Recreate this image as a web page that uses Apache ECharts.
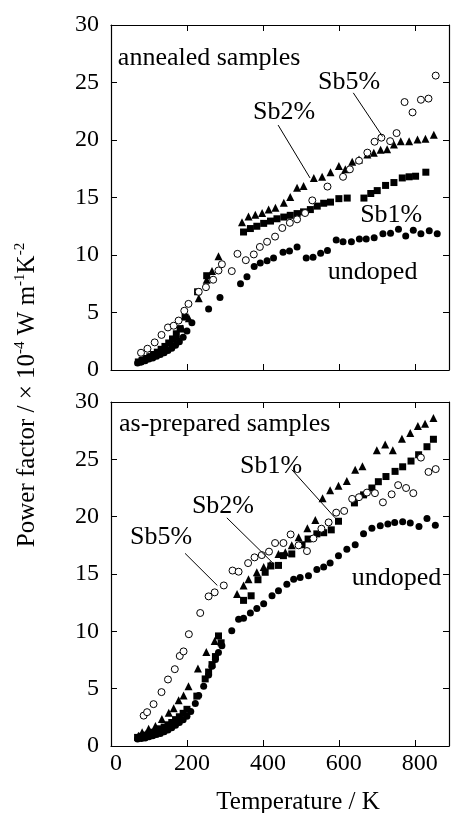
<!DOCTYPE html>
<html>
<head>
<meta charset="utf-8">
<script src="https://cdn.jsdelivr.net/npm/echarts@6/dist/echarts.min.js"></script>
<style>html,body{margin:0;padding:0;background:#fff}#c{width:452px;height:813px}</style>
</head>
<body>
<div id="c"></div>
<script>
// ---------- data (Temperature K, power factor x10^-4 W m^-1 K^-2) ----------
const xTicks = [0, 200, 400, 600, 800];
const yTicks = [0, 5, 10, 15, 20, 25, 30];

// annealed samples (upper panel)
const annUndoped = [[70,0.6],[80,0.7],[90,0.8],[100,0.95],[110,1.05],[120,1.2],[130,1.35],[140,1.5],[150,1.7],[160,1.9],[170,2.15],[180,2.45],[190,2.85],[200,3.4],[213,4.1],[257,5.3],[287,6.3],[341,7.5],[358,8.1],[377,9.0],[393,9.3],[411,9.5],[428,9.75],[453,10.25],[470,10.35],[490,10.7],[514,9.75],[532,9.8],[552,10.15],[570,10.4],[593,11.3],[611,11.15],[633,11.15],[654,11.4],[672,11.4],[693,11.5],[716,11.85],[736,11.9],[757,12.25],[776,11.65],[796,12.15],[816,11.85],[838,12.1],[859,11.85]];
const annSb1 = [[72,0.7],[82,0.85],[92,1.0],[102,1.15],[112,1.35],[122,1.55],[132,1.8],[142,2.05],[152,2.35],[162,2.7],[172,3.15],[182,3.6],[195,4.6],[228,6.8],[252,8.2],[349,12.0],[367,12.3],[384,12.5],[402,12.75],[420,12.95],[437,13.15],[455,13.3],[472,13.45],[490,13.6],[507,13.75],[525,13.95],[543,14.25],[560,14.5],[578,14.6],[600,14.9],[622,14.95],[666,14.95],[684,15.35],[701,15.6],[723,16.05],[745,16.3],[767,16.7],[785,16.8],[802,16.85],[829,17.2]];
const annSb2 = [[75,0.8],[88,1.0],[100,1.2],[115,1.45],[130,1.7],[145,2.0],[160,2.4],[175,2.9],[188,3.6],[205,4.5],[231,6.25],[252,7.85],[266,8.6],[283,9.9],[345,12.85],[362,13.35],[380,13.5],[398,13.65],[415,13.95],[433,14.1],[455,14.55],[472,15.05],[490,15.85],[507,16.0],[534,16.7],[556,16.8],[578,17.2],[600,17.75],[617,17.45],[635,18.1],[653,18.3],[675,18.75],[692,18.9],[710,19.15],[727,19.2],[745,19.6],[763,19.9],[785,19.9],[807,20.05],[828,20.1],[850,20.45]];
const annSb5 = [[79,1.5],[96,1.85],[115,2.4],[133,3.05],[150,3.7],[165,3.85],[178,4.3],[193,5.15],[204,5.75],[231,6.8],[250,7.2],[269,7.85],[283,8.65],[292,9.2],[318,8.6],[333,10.1],[355,9.55],[376,10.05],[392,10.7],[411,11.15],[432,11.6],[451,12.35],[471,12.8],[490,13.1],[511,13.65],[530,14.75],[570,15.95],[611,16.8],[629,17.45],[653,18.2],[675,18.9],[694,19.85],[712,20.2],[735,19.9],[752,20.6],[773,23.3],[794,22.4],[816,23.5],[836,23.6],[855,25.6]];

// as-prepared samples (lower panel)
const prepUndoped = [[70,0.6],[80,0.65],[90,0.7],[100,0.8],[110,0.9],[120,1.0],[130,1.1],[140,1.25],[150,1.4],[160,1.6],[170,1.8],[180,2.05],[190,2.3],[200,2.6],[210,3.0],[222,3.7],[231,4.4],[244,5.2],[257,6.2],[266,6.95],[275,7.55],[283,8.15],[292,8.75],[318,10.05],[336,11.05],[349,11.15],[367,11.6],[384,12.0],[402,12.4],[424,13.1],[441,13.55],[463,14.1],[481,14.55],[498,14.7],[520,14.85],[542,15.4],[560,15.6],[577,15.95],[599,16.6],[621,17.15],[643,17.55],[665,18.5],[687,19.0],[709,19.2],[729,19.35],[747,19.5],[768,19.55],[788,19.45],[811,19.15],[832,19.85],[854,19.25]];
const prepSb1 = [[70,0.75],[80,0.85],[90,0.95],[100,1.05],[110,1.2],[120,1.35],[130,1.5],[140,1.65],[150,1.85],[160,2.05],[170,2.3],[180,2.55],[190,2.85],[200,3.2],[226,4.35],[248,5.85],[257,6.45],[266,7.1],[275,7.8],[283,9.6],[290,9.0],[349,12.7],[369,13.1],[387,14.5],[406,15.15],[421,15.7],[441,15.75],[454,16.6],[476,16.75],[503,17.55],[519,18.05],[542,18.5],[560,18.6],[580,18.85],[599,19.6],[641,21.2],[665,21.9],[687,22.5],[704,23.05],[724,23.5],[748,23.95],[768,24.35],[790,24.85],[810,25.4],[832,26.1],[849,26.75]];
const prepSb2 = [[72,0.9],[82,1.2],[99,1.5],[117,1.75],[134,2.35],[152,2.9],[165,3.3],[178,4.0],[191,4.4],[204,5.2],[229,6.75],[251,8.2],[273,9.15],[332,13.25],[349,14.0],[362,14.55],[384,15.15],[402,15.6],[419,15.8],[441,16.75],[459,16.9],[476,17.5],[494,18.2],[517,19.0],[538,19.7],[557,21.6],[577,22.3],[599,22.7],[621,23.1],[643,24.1],[662,24.4],[700,25.8],[722,26.3],[742,25.8],[766,26.8],[788,27.3],[808,27.9],[827,28.1],[849,28.6]];
const prepSb5 = [[86,2.65],[95,2.95],[112,3.65],[133,4.7],[150,5.8],[168,6.7],[181,7.85],[191,8.25],[205,9.75],[235,11.6],[257,13.05],[273,13.4],[297,14.0],[320,15.3],[336,15.2],[361,15.95],[378,16.45],[397,16.65],[416,16.95],[432,17.7],[454,17.7],[473,18.45],[494,17.5],[516,17.0],[533,18.1],[554,18.95],[573,19.5],[593,20.35],[614,20.5],[635,21.55],[653,21.7],[674,22.1],[695,22.05],[716,21.25],[739,21.95],[756,22.75],[777,22.5],[796,22.05],[816,25.15],[836,23.9],[855,24.15]];

// annotations: [text, T, V] (left-anchored) and leader lines [[T1,V1],[T2,V2]]
const annLabels = [["annealed samples",18,27.1],["Sb5%",545,25.0],["Sb2%",374,22.4],["Sb1%",656,13.5],["undoped",571,8.5]];
const annLeaders = [[[638,24.1],[715,20.3]],[[440,21.3],[524,16.7]]];
const prepLabels = [["as-prepared samples",21,28.1],["Sb1%",340,24.4],["Sb2%",213,20.9],["Sb5%",50,18.2],["undoped",634,14.65]];
const prepLeaders = [[[476,24.1],[590,19.9]],[[305,19.9],[428,15.9]],[[195,16.8],[280,14.0]]];

const xTitle = "Temperature / K";

// ---------- chart ----------
const FONT = '"Liberation Serif","Times New Roman",serif';
const chart = echarts.init(document.getElementById('c'), null, {renderer:'canvas'});
const XMAX = 890;

function xAx(grid, pos, labels){
  return {type:'value', gridIndex:grid, position:pos, min:0, max:XMAX, interval:200,
    axisLine:{show:true, onZero:false, lineStyle:{color:'#000', width:1.2}},
    axisTick:{show:true, inside:true, length:6, lineStyle:{color:'#000'}},
    splitLine:{show:false},
    axisLabel:{show:labels, showMaxLabel:false, color:'#000', fontFamily:FONT, fontSize:24, margin:6, padding:[0,0,0,10]}};
}
function yAx(grid, pos, labels){
  return {type:'value', gridIndex:grid, position:pos, min:0, max:30, interval:5,
    axisLine:{show:true, onZero:false, lineStyle:{color:'#000', width:1.2}},
    axisTick:{show:true, inside:true, length:6, lineStyle:{color:'#000'}},
    splitLine:{show:false},
    axisLabel:{show:labels, color:'#000', fontFamily:FONT, fontSize:24, margin:12}};
}
function sc(data, ax, sym, size, empty){
  return {type:'scatter', xAxisIndex:ax, yAxisIndex:ax, data:data, symbol:sym, symbolSize:size,
    itemStyle: empty ? {color:'#fff', borderColor:'#000', borderWidth:1, opacity:1} : {color:'#000', opacity:1},
    silent:true, z: empty ? 4 : 3};
}
function labelSeries(labels, leaders, ax){
  return {type:'scatter', xAxisIndex:ax, yAxisIndex:ax, symbolSize:0, silent:true, z:5,
    itemStyle:{opacity:1, color:'#000'},
    data: labels.map(l => ({value:[l[1], l[2]], name:l[0]})),
    label:{show:true, position:'right', distance:0, formatter:p=>p.name, color:'#000', opacity:1, fontFamily:FONT, fontSize:26},
    markLine:{silent:true, symbol:'none', animation:false, label:{show:false},
      lineStyle:{color:'#000', width:1, type:'solid', opacity:1},
      data: leaders.map(s => [{coord:s[0]},{coord:s[1]}])}};
}

chart.setOption({
  animation:false,
  backgroundColor:'#fff',
  grid:[{left:111, right:3, top:25, height:345},{left:111, right:3, top:402, height:344}],
  xAxis:[xAx(0,'bottom',false), xAx(0,'top',false), xAx(1,'bottom',true), xAx(1,'top',false)],
  yAxis:[yAx(0,'left',true), yAx(0,'right',false), yAx(1,'left',true), yAx(1,'right',false)],
  series:[
    sc(annUndoped,0,'circle',7,false), sc(annSb1,0,'rect',7,false), sc(annSb2,0,'triangle',8,false), sc(annSb5,0,'circle',7,true),
    sc(prepUndoped,2,'circle',7,false), sc(prepSb1,2,'rect',7,false), sc(prepSb2,2,'triangle',8,false), sc(prepSb5,2,'circle',7,true),
    labelSeries(annLabels, annLeaders, 0), labelSeries(prepLabels, prepLeaders, 2)
  ],
  graphic:[
    {type:'text', x:298, y:802, style:{text:xTitle, font:'25px '+FONT, fill:'#000', textAlign:'center', textVerticalAlign:'middle'}},
    {type:'text', x:27, y:395, rotation:Math.PI/2,
      style:{text:'{n|Power factor / × 10}{s|-4}{n| W m}{s|-1}{n|K}{s|-2}', textAlign:'center', textVerticalAlign:'middle', fill:'#000',
        rich:{n:{fontFamily:FONT, fontSize:25, lineHeight:28, fill:'#000'}, s:{fontFamily:FONT, fontSize:15, lineHeight:15, verticalAlign:'top', fill:'#000'}}}}
  ]
});
</script>
</body>
</html>
